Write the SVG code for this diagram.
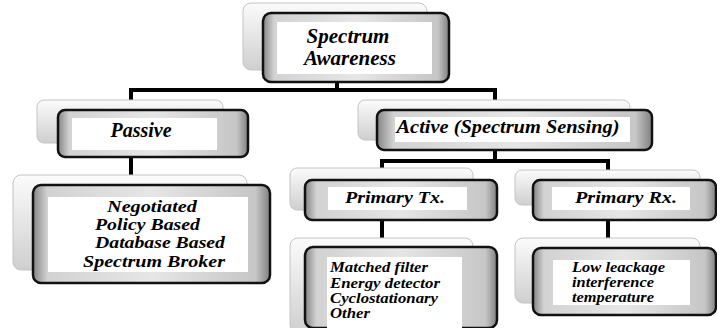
<svg xmlns="http://www.w3.org/2000/svg" width="717" height="328" viewBox="0 0 717 328">
<defs>
<linearGradient id="shd" x1="0" y1="0" x2="0" y2="1">
<stop offset="0" stop-color="#fbfbfb"/><stop offset="1" stop-color="#cfcfcf"/>
</linearGradient>
<linearGradient id="bev" x1="0" y1="0" x2="1" y2="0">
<stop offset="0" stop-color="#858585"/><stop offset="0.06" stop-color="#d2d2d2"/><stop offset="0.5" stop-color="#e6e6e6"/><stop offset="0.94" stop-color="#c6c6c6"/><stop offset="1" stop-color="#808080"/>
</linearGradient>
<style>
.sh{fill:url(#shd);stroke:#c4c4c4;stroke-width:1}
.fr{fill:url(#bev);stroke:#111;stroke-width:2.5}
.in{fill:#fff}
.t{font-family:"Liberation Serif","Times New Roman",serif;font-weight:bold;font-style:italic;fill:#000}
.c{stroke:#000;stroke-width:4;fill:none}
</style>
</defs>
<rect width="717" height="328" fill="#fff"/>
<g id="connectors">
<path class="c" d="M337 82V90M131 90H495M131 88V185M495 88V110"/>
<path class="c" d="M495 150V161M382 161H608M382 159V180M608 159V180"/>
<path class="c" d="M382 220V247M608 220V248"/>
</g>
<g id="awareness">
<rect class="sh" x="243" y="3" width="184" height="67" rx="8"/>
<rect class="fr" x="263" y="13" width="186" height="69" rx="8"/>
<rect class="in" x="277" y="22" width="155" height="52"/>
<text class="t" x="348" y="43" font-size="21" text-anchor="middle">Spectrum</text>
<text class="t" x="350" y="65" font-size="21" text-anchor="middle">Awareness</text>
</g>
<g id="passive">
<rect class="sh" x="37" y="100" width="186" height="43" rx="7"/>
<rect class="fr" x="58" y="110" width="190" height="47" rx="7"/>
<rect class="in" x="72" y="118" width="145" height="32"/>
<text class="t" x="141" y="137" font-size="20" text-anchor="middle">Passive</text>
</g>
<g id="active">
<rect class="sh" x="358" y="100" width="272" height="40" rx="7"/>
<rect class="fr" x="377" y="110" width="275" height="40" rx="7"/>
<rect class="in" x="395" y="117" width="235" height="25"/>
<text class="t" x="508" y="133" font-size="19" text-anchor="middle" textLength="223" lengthAdjust="spacingAndGlyphs">Active (Spectrum Sensing)</text>
</g>
<g id="passive-list">
<rect class="sh" x="13" y="175" width="234" height="95" rx="8"/>
<rect class="fr" x="33" y="185" width="237" height="98" rx="8"/>
<rect class="in" x="48" y="197" width="200" height="75"/>
<text class="t" x="107" y="212" font-size="17" textLength="90" lengthAdjust="spacingAndGlyphs">Negotiated</text>
<text class="t" x="95" y="230" font-size="17" textLength="105" lengthAdjust="spacingAndGlyphs">Policy Based</text>
<text class="t" x="95" y="248" font-size="17" textLength="130" lengthAdjust="spacingAndGlyphs">Database Based</text>
<text class="t" x="83" y="267" font-size="17" textLength="142" lengthAdjust="spacingAndGlyphs">Spectrum Broker</text>
</g>
<g id="primary-tx">
<rect class="sh" x="290" y="168" width="183" height="42" rx="7"/>
<rect class="fr" x="305" y="180" width="192" height="40" rx="7"/>
<rect class="in" x="328" y="187" width="139" height="23"/>
<text class="t" x="395" y="203" font-size="17" text-anchor="middle" textLength="100" lengthAdjust="spacingAndGlyphs">Primary Tx.</text>
</g>
<g id="primary-rx">
<rect class="sh" x="515" y="170" width="185" height="35" rx="7"/>
<rect class="fr" x="533" y="180" width="183" height="40" rx="7"/>
<rect class="in" x="552" y="187" width="138" height="23"/>
<text class="t" x="626" y="203" font-size="17" text-anchor="middle" textLength="102" lengthAdjust="spacingAndGlyphs">Primary Rx.</text>
</g>
<g id="tx-list">
<rect class="sh" x="290" y="238" width="183" height="95" rx="8"/>
<rect class="fr" x="305" y="247" width="192" height="81" rx="8"/>
<rect class="in" x="327" y="257" width="135" height="71"/>
<text class="t" x="330" y="272" font-size="14" textLength="98" lengthAdjust="spacingAndGlyphs">Matched filter</text>
<text class="t" x="330" y="288" font-size="14" textLength="110" lengthAdjust="spacingAndGlyphs">Energy detector</text>
<text class="t" x="330" y="303" font-size="14" textLength="108" lengthAdjust="spacingAndGlyphs">Cyclostationary</text>
<text class="t" x="330" y="318" font-size="14" textLength="40" lengthAdjust="spacingAndGlyphs">Other</text>
</g>
<g id="rx-list">
<rect class="sh" x="515" y="238" width="185" height="65" rx="8"/>
<rect class="fr" x="533" y="248" width="183" height="67" rx="8"/>
<rect class="in" x="553" y="260" width="137" height="45"/>
<text class="t" x="572" y="272" font-size="14" textLength="93" lengthAdjust="spacingAndGlyphs">Low leackage</text>
<text class="t" x="572" y="287" font-size="14" textLength="82" lengthAdjust="spacingAndGlyphs">interference</text>
<text class="t" x="572" y="302" font-size="14" textLength="82" lengthAdjust="spacingAndGlyphs">temperature</text>
</g>
</svg>
